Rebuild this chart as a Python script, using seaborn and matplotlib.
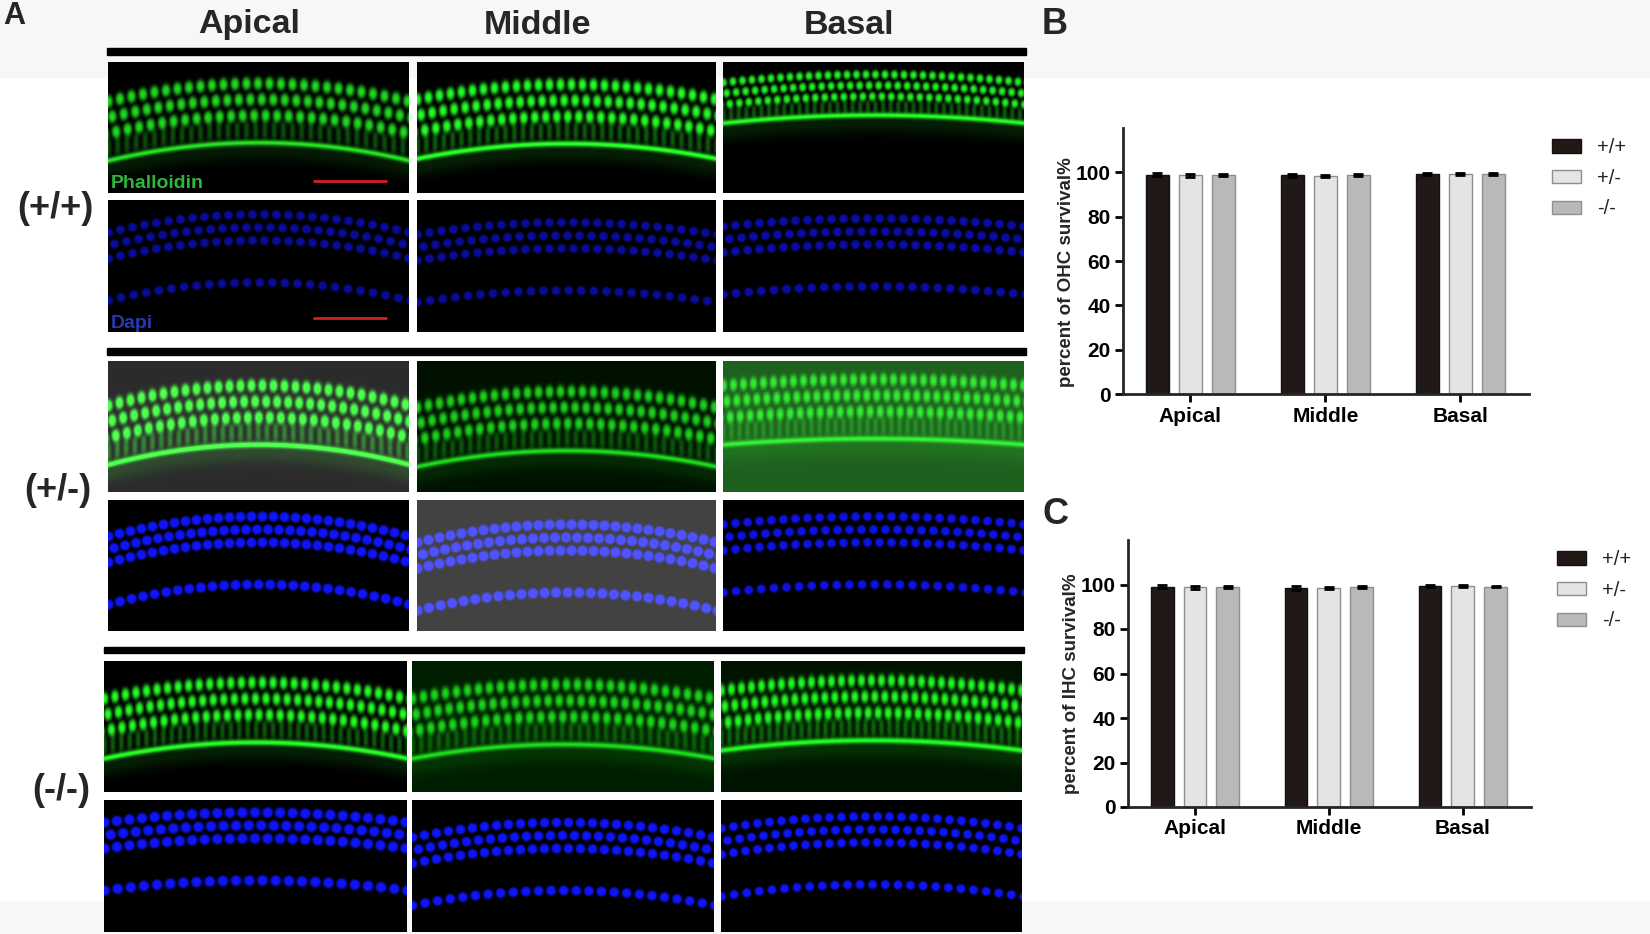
import numpy as np
import pandas as pd
import matplotlib
matplotlib.use('Agg')
import matplotlib.pyplot as plt
from matplotlib.patches import Patch, Rectangle
import seaborn as sns

# bar chart data (percent survival, mean and error per genotype)
regions = ['Apical', 'Middle', 'Basal']
genotypes = ['+/+', '+/-', '-/-']
ohc_wt = [99.0, 98.6, 99.2]
ohc_het = [98.6, 98.5, 99.3]
ohc_ko = [98.8, 98.7, 99.1]
ohc_err_wt = [0.6, 0.8, 0.6]
ohc_err_het = [0.5, 0.4, 0.5]
ohc_err_ko = [0.4, 0.4, 0.4]
ihc_wt = [99.1, 98.6, 99.3]
ihc_het = [98.7, 98.5, 99.3]
ihc_ko = [98.9, 98.8, 99.1]
ihc_err_wt = [0.5, 0.9, 0.6]
ihc_err_het = [0.5, 0.4, 0.5]
ihc_err_ko = [0.5, 0.4, 0.4]
yticks = [0, 20, 40, 60, 80, 100]

bar_colors = ['#231816', '#e4e4e4', '#b9b9b9']
edge_colors = ['#111111', '#8e8e8e', '#8e8e8e']

sns.set_style('ticks')
plt.rcParams['font.family'] = ['Liberation Sans', 'DejaVu Sans']

W, H = 1650, 934
fig = plt.figure(figsize=(16.5, 9.34), dpi=100)


def px_axes(x0, y0, x1, y1):
    return fig.add_axes([x0 / W, 1 - y1 / H, (x1 - x0) / W, (y1 - y0) / H])


# faint grey bands of the original scan
fig.patches.append(Rectangle((0, 1 - 77 / H), 1, 77 / H, color='#f7f7f7',
                             transform=fig.transFigure, zorder=-5))
fig.patches.append(Rectangle((0, 0), 1, 32 / H, color='#f7f7f7',
                             transform=fig.transFigure, zorder=-5))


# ---------- panel A: stand-in micrographs ----------
def arc_points(w, y0, curv, spacing, dys, stagger):
    pts = []
    for k, dy in enumerate(dys):
        xs = np.arange(-spacing + k * stagger, w + spacing, spacing)
        u = (xs / w - 0.5) * 2
        pts += list(zip(xs, y0 + dy + curv * u ** 2))
    return pts


def blobs(h, w, pts, rx, ry, power):
    Y, X = np.mgrid[0:h, 0:w]
    out = np.zeros((h, w))
    for cx, cy in pts:
        d = ((X - cx) / rx) ** 2 + ((Y - cy) / ry) ** 2
        out = np.maximum(out, np.exp(-d ** power))
    return out


def phalloidin(h, w, y0, curv, spacing, bright, bg, gap=16):
    Y, X = np.mgrid[0:h, 0:w]
    arc = curv * ((X / w - 0.5) * 2) ** 2
    cups = blobs(h, w, arc_points(w, y0, curv, spacing, [0, gap, 2 * gap], spacing / 3),
                 spacing * 0.38, gap * 0.4, 1.5)
    yl = y0 + 3.7 * gap
    stripes = 0.35 * (0.55 + 0.45 * np.cos(2 * np.pi * X / (spacing * 0.8)))
    band = np.exp(-((Y - arc - (y0 + 2.9 * gap)) / (0.55 * gap)) ** 4)
    line = np.exp(-((Y - arc - yl) / 2.8) ** 2)
    glow = 0.12 * np.exp(-((Y - arc - yl - 8) / 10) ** 2)
    I = np.clip(cups + stripes * band + line + glow, 0, 1.2) * bright
    rgb = np.array(bg)[None, None, :] + I[..., None] * np.array([0.15, 1.0, 0.15])
    return np.clip(rgb, 0, 1)


def dapi(h, w, y0, curv, bright, bg, rad=4.6, spacing=12.0, low=68):
    pts = arc_points(w, y0, curv, spacing, [0, 13, 26], spacing / 2)
    pts += arc_points(w, y0 + low, curv, spacing * 1.05, [0], 0)
    I = blobs(h, w, pts, rad, rad, 3) * bright
    rgb = np.array(bg)[None, None, :] + I[..., None] * np.array([0.06, 0.08, 1.0])
    return np.clip(rgb, 0, 1)


black = (0, 0, 0)
phal_params = [
    [dict(y0=21, curv=18, spacing=11.5, bright=0.85, bg=black),
     dict(y0=22, curv=15, spacing=11.0, bright=1.0, bg=black),
     dict(y0=12, curv=8, spacing=9.5, bright=0.95, bg=black, gap=11)],
    [dict(y0=24, curv=20, spacing=11.0, bright=1.0, bg=(0.17, 0.17, 0.17)),
     dict(y0=30, curv=16, spacing=11.0, bright=0.75, bg=(0.0, 0.07, 0.0)),
     dict(y0=18, curv=6, spacing=10.0, bright=0.55, bg=(0.12, 0.38, 0.12))],
    [dict(y0=22, curv=16, spacing=10.5, bright=1.0, bg=black),
     dict(y0=24, curv=14, spacing=11.0, bright=0.72, bg=(0.0, 0.12, 0.0)),
     dict(y0=20, curv=10, spacing=10.0, bright=0.9, bg=(0.0, 0.08, 0.0))],
]
dapi_params = [
    [dict(y0=14, curv=18, bright=0.6, bg=black),
     dict(y0=22, curv=12, bright=0.6, bg=black),
     dict(y0=18, curv=8, bright=0.65, bg=black)],
    [dict(y0=16, curv=20, bright=1.0, bg=black, rad=5.2, spacing=11.0),
     dict(y0=24, curv=18, bright=0.9, bg=(0.26, 0.26, 0.26), rad=5.2, spacing=11.0),
     dict(y0=16, curv=8, bright=0.9, bg=black)],
    [dict(y0=12, curv=10, bright=1.0, bg=black, rad=5.4, spacing=12.5),
     dict(y0=22, curv=15, bright=1.0, bg=black, rad=5.0),
     dict(y0=16, curv=12, bright=1.0, bg=black)],
]

col_spans = [[(108, 409), (417, 716), (723, 1024)],
             [(108, 409), (417, 716), (723, 1024)],
             [(104, 406), (412, 714), (721, 1022)]]
row_spans = [[(62, 193), (200, 332)], [(361, 492), (500, 631)], [(661, 792), (800, 932)]]
bar_spans = [(107, 1026, 48, 55), (107, 1026, 348, 355), (104, 1024, 647, 653)]
row_labels = ['(+/+)', '(+/-)', '(-/-)']
row_label_pos = [(55, 208), (58, 491), (61, 791)]
col_titles = ['Apical', 'Middle', 'Basal']
col_title_x = [249, 537, 849]

for g in range(3):
    bx0, bx1, by0, by1 = bar_spans[g]
    fig.patches.append(Rectangle((bx0 / W, 1 - by1 / H), (bx1 - bx0) / W, (by1 - by0) / H,
                                 color='black', transform=fig.transFigure))
    (py0, py1), (dy0, dy1) = row_spans[g]
    for c in range(3):
        x0, x1 = col_spans[g][c]
        ax = px_axes(x0, py0, x1, py1)
        ax.imshow(phalloidin(py1 - py0, x1 - x0, **phal_params[g][c]), aspect='auto')
        ax.axis('off')
        if g == 0 and c == 0:
            ax.text(2, py1 - py0 - 1, 'Phalloidin', color='#2cb83c', fontsize=14,
                    fontweight='bold', va='bottom', ha='left')
            ax.plot([205, 277], [118, 118], color='#d42020', lw=2)
        ax = px_axes(x0, dy0, x1, dy1)
        ax.imshow(dapi(dy1 - dy0, x1 - x0, **dapi_params[g][c]), aspect='auto')
        ax.axis('off')
        if g == 0 and c == 0:
            ax.text(2, dy1 - dy0 - 1, 'Dapi', color='#2a38b0', fontsize=14,
                    fontweight='bold', va='bottom', ha='left')
            ax.plot([205, 277], [117, 117], color='#d42020', lw=2)
    lx, ly = row_label_pos[g]
    fig.text(lx / W, 1 - ly / H, row_labels[g], fontsize=26, fontweight='bold',
             ha='center', va='center')

for t, x in zip(col_titles, col_title_x):
    fig.text(x / W, 1 - 25 / H, t, fontsize=24.5, fontweight='bold', ha='center', va='center')

fig.text(3 / W, 1 - 16 / H, 'A', fontsize=22, fontweight='bold', ha='left', va='center')
fig.text(1042 / W, 1 - 25 / H, 'B', fontsize=26, fontweight='bold', ha='left', va='center')
fig.text(1042 / W, 1 - 514 / H, 'C', fontsize=26, fontweight='bold', ha='left', va='center')


# ---------- panels B and C: bar charts ----------
def survival_panel(rect, means, errs, ylabel, legend_xy):
    ax = px_axes(*rect)
    df = pd.DataFrame({
        'region': regions * 3,
        'genotype': np.repeat(genotypes, 3),
        'value': np.concatenate(means),
    })
    sns.barplot(data=df, x='region', y='value', hue='genotype', order=regions,
                hue_order=genotypes, palette=dict(zip(genotypes, bar_colors)),
                width=0.735, gap=0.306, errorbar=None, legend=False, ax=ax)
    for cont, ec, err in zip(ax.containers, edge_colors, errs):
        xs = []
        for bar in cont:
            bar.set_edgecolor(ec)
            bar.set_linewidth(1.0)
            xs.append(bar.get_x() + bar.get_width() / 2)
        hs = [bar.get_height() for bar in cont]
        ax.errorbar(xs, hs, yerr=err, fmt='none', ecolor='black', elinewidth=1.5,
                    capsize=3.5, capthick=2, zorder=5)
    ax.set_ylim(0, 120)
    ax.set_xlim(-0.5, 2.51)
    ax.set_yticks(yticks)
    ax.set_xlabel('')
    ax.set_ylabel(ylabel, fontsize=13.5, fontweight='bold', va='center')
    ax.yaxis.set_label_coords(-0.14, 0.46)
    sns.despine(ax=ax)
    for s in ['left', 'bottom']:
        ax.spines[s].set_linewidth(2)
    ax.tick_params(axis='both', width=2, length=6, labelsize=15, pad=3, colors='black')
    for lab in ax.get_xticklabels() + ax.get_yticklabels():
        lab.set_fontweight('bold')
    handles = [Patch(facecolor=fc, edgecolor=ec, linewidth=1.0)
               for fc, ec in zip(bar_colors, edge_colors)]
    fig.legend(handles, genotypes, loc='upper left',
               bbox_to_anchor=(legend_xy[0] / W, 1 - legend_xy[1] / H),
               frameon=False, fontsize=14.5, handlelength=1.45, handleheight=0.65,
               handletextpad=0.8, labelspacing=0.58, borderpad=0, borderaxespad=0)
    return ax


survival_panel((1123, 128, 1529, 394), [ohc_wt, ohc_het, ohc_ko],
               [ohc_err_wt, ohc_err_het, ohc_err_ko], 'percent of OHC survival%', (1552, 138))
survival_panel((1128, 540, 1531, 807), [ihc_wt, ihc_het, ihc_ko],
               [ihc_err_wt, ihc_err_het, ihc_err_ko], 'percent of IHC survival%', (1557, 550))

fig.savefig('out.png', dpi=100)
